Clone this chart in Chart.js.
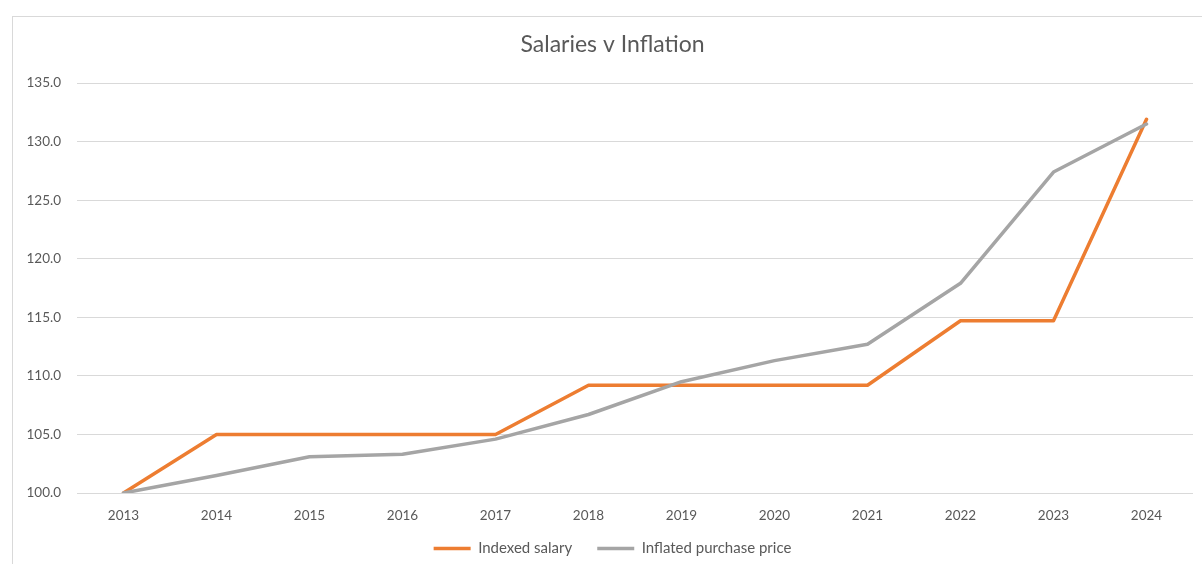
<!DOCTYPE html>
<html>
<head>
<meta charset="utf-8">
<script src="https://cdn.jsdelivr.net/npm/chart.js@4"></script>
<style>
  html, body { margin: 0; padding: 0; background: #fff; overflow: hidden; }
  #wrap { position: relative; width: 1202px; height: 564px; overflow: hidden; }
  #frame { position: absolute; left: 12px; top: 16px; width: 1300px; height: 700px; border: 1px solid #d9d9d9; box-sizing: border-box; }
  #c { position: absolute; left: 0; top: 0; }
</style>
</head>
<body>
<div id="wrap">
  <div id="frame"></div>
  <canvas id="c" width="1202" height="566" style="width:1202px;height:566px"></canvas>
</div>
<script>
const years = ['2013','2014','2015','2016','2017','2018','2019','2020','2021','2022','2023','2024'];
const indexedSalary = [100, 105, 105, 105, 105, 109.2, 109.2, 109.2, 109.2, 114.7, 114.7, 131.9];
const inflatedPrice = [100, 101.5, 103.1, 103.3, 104.6, 106.7, 109.5, 111.3, 112.7, 117.9, 127.4, 131.5];
const yTicks = [100, 105, 110, 115, 120, 125, 130, 135];

const FONT = 'Lato';
const TXT = '#595959';
const noLabelClip = (s) => { s._computeLabelArea = () => undefined; };

new Chart(document.getElementById('c'), {
  type: 'line',
  data: {
    labels: years,
    datasets: [
      { label: 'Indexed salary', data: indexedSalary, borderColor: '#ED7D31', backgroundColor: '#ED7D31',
        borderWidth: 3.5, pointRadius: 0, tension: 0, borderJoinStyle: 'round', borderCapStyle: 'round', order: 1 },
      { label: 'Inflated purchase price', data: inflatedPrice, borderColor: '#A5A5A5', backgroundColor: '#A5A5A5',
        borderWidth: 3.5, pointRadius: 0, tension: 0, borderJoinStyle: 'round', borderCapStyle: 'round', order: 0 }
    ]
  },
  options: {
    responsive: false,
    animation: false,
    layout: { padding: { left: 32, right: 9, top: 16, bottom: 0 } },
    plugins: {
      title: { display: true, text: 'Salaries v Inflation', color: TXT,
        font: { family: FONT, size: 23, weight: 'normal' }, padding: { top: 15.2, bottom: 24.2 } },
      legend: { position: 'bottom',
        labels: { color: TXT, font: { family: FONT, size: 15 }, usePointStyle: true, pointStyle: 'line',
          pointStyleWidth: 37, padding: 25, sort: (a, b) => a.datasetIndex - b.datasetIndex } },
      tooltip: { enabled: false }
    },
    scales: {
      x: {
        offset: true,
        grid: { display: false, drawTicks: false },
        border: { display: false },
        ticks: { color: TXT, font: { family: FONT, size: 13.5 }, padding: 15, maxRotation: 0 },
        afterFit: (s) => { s.height = 23; noLabelClip(s); }
      },
      y: {
        min: 100, max: 135,
        afterBuildTicks: (s) => { s.ticks = yTicks.map(v => ({ value: v })); },
        grid: { color: '#d9d9d9', lineWidth: 1, drawTicks: false },
        border: { display: false },
        ticks: { color: TXT, font: { family: FONT, size: 13.5 }, padding: 16, callback: (v) => Number(v).toFixed(1) },
        afterFit: (s) => { s.width = 45; noLabelClip(s); }
      }
    }
  }
});
</script>
</body>
</html>
